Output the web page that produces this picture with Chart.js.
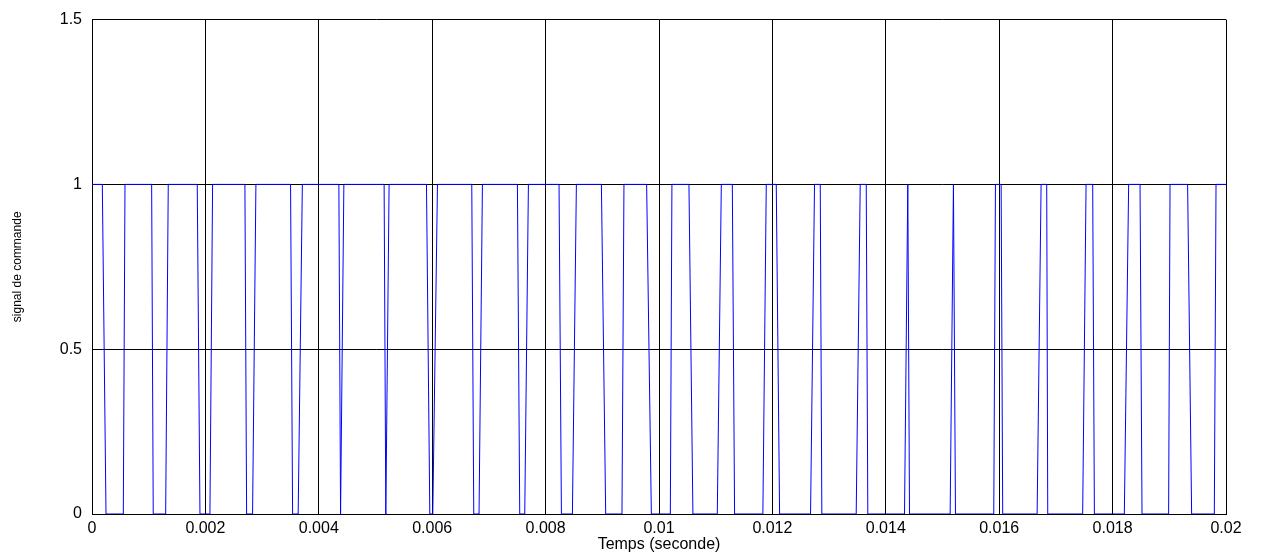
<!DOCTYPE html>
<html>
<head>
<meta charset="utf-8">
<script src="https://cdn.jsdelivr.net/npm/chart.js@4.4.0/dist/chart.umd.min.js"></script>
<style>
  html, body { margin: 0; padding: 0; background: #fff; }
  #wrap { width: 1262px; height: 554px; }
</style>
</head>
<body>
<div id="wrap"><canvas id="chart" width="1262" height="554"></canvas></div>
<script>
// time of each corner of the command signal (seconds) and its level
const timeValues = [
    0, 0.000182, 0.000247, 0.000552, 0.000582, 0.001052, 0.00108, 0.001299, 0.001345,
    0.001856, 0.001904, 0.00208, 0.002127, 0.002697, 0.002727, 0.002832, 0.002891,
    0.003502, 0.003538, 0.003636, 0.00371, 0.004354, 0.004384, 0.004442,
    0.005152, 0.005182, 0.00524, 0.005899, 0.005958, 0.00601, 0.006093,
    0.006698, 0.006733, 0.006826, 0.006886, 0.007503, 0.007544, 0.007632, 0.007697,
    0.008237, 0.008279, 0.008473, 0.008543, 0.008984, 0.00906, 0.009347, 0.009382,
    0.009782, 0.009865, 0.0102, 0.010228, 0.010528, 0.010598, 0.011028, 0.011099,
    0.011293, 0.011333, 0.011832, 0.011892, 0.012068, 0.012127, 0.012673, 0.012743,
    0.012844, 0.012872, 0.013478, 0.013549, 0.013655, 0.013683, 0.01433, 0.014388,
    0.014418, 0.015135, 0.015193, 0.015229, 0.015904, 0.015934, 0.016034, 0.016062,
    0.016669, 0.016739, 0.016838, 0.016856, 0.017472, 0.017532, 0.017649, 0.017679,
    0.018207, 0.018283, 0.018484, 0.018519, 0.018988, 0.019013, 0.019323, 0.019394,
    0.019794, 0.019824, 0.02
];
const signalValues = [
    1, 1, 0, 0, 1, 1, 0, 0, 1,
    1, 0, 0, 1, 1, 0, 0, 1,
    1, 0, 0, 1, 1, 0, 1,
    1, 0, 1, 1, 0, 0, 1,
    1, 0, 0, 1, 1, 0, 0, 1,
    1, 0, 0, 1, 1, 0, 0, 1,
    1, 0, 0, 1, 1, 0, 0, 1,
    1, 0, 0, 1, 1, 0, 0, 1,
    1, 0, 0, 1, 1, 0, 0, 1,
    0, 0, 1, 0, 0, 1, 1, 0,
    0, 1, 1, 0, 0, 1, 1, 0,
    0, 1, 1, 0, 0, 1, 1, 0,
    0, 1, 1
];
const xTicks = [0, 0.002, 0.004, 0.006, 0.008, 0.01, 0.012, 0.014, 0.016, 0.018, 0.02];
const yTicks = [0, 0.5, 1, 1.5];

const points = timeValues.map((t, i) => ({ x: t, y: signalValues[i] }));
const tickFont = { family: 'Liberation Sans, Arial', size: 16 };

const ctx = document.getElementById('chart').getContext('2d');
const chart = new Chart(ctx, {
    type: 'scatter',
    data: {
        datasets: [{
            data: points,
            showLine: true,
            borderColor: '#0000ff',
            borderWidth: 1,
            pointRadius: 0,
            tension: 0
        }]
    },
    options: {
        responsive: false,
        animation: false,
        layout: { padding: { top: 19, right: 36, left: 0, bottom: 0 } },
        plugins: { legend: { display: false }, tooltip: { enabled: false } },
        scales: {
            x: {
                type: 'linear',
                min: 0,
                max: 0.02,
                afterBuildTicks: s => { s.ticks = xTicks.map(v => ({ value: v })); },
                afterFit: s => { s.height = 40; },
                grid: { color: '#000', lineWidth: 1, drawTicks: false },
                border: { color: '#000', width: 1 },
                ticks: {
                    color: '#000',
                    padding: 5,
                    maxRotation: 0,
                    font: tickFont,
                    callback: v => String(Number(v.toFixed(3)))
                },
                title: {
                    display: true,
                    text: 'Temps (seconde)',
                    color: '#000',
                    padding: 0,
                    font: tickFont
                }
            },
            y: {
                min: 0,
                max: 1.5,
                afterBuildTicks: s => { s.ticks = yTicks.map(v => ({ value: v })); },
                afterFit: s => { s.width = 92; },
                grid: { color: '#000', lineWidth: 1, drawTicks: false },
                border: { color: '#000', width: 1 },
                ticks: {
                    color: '#000',
                    padding: 10,
                    font: tickFont,
                    callback: v => String(v)
                },
                title: {
                    display: true,
                    text: 'signal de commande',
                    color: '#000',
                    padding: { top: 10, bottom: 0 },
                    font: { family: 'Liberation Sans Narrow, Liberation Sans, Arial', size: 12 }
                }
            }
        }
    }
});
</script>
</body>
</html>
